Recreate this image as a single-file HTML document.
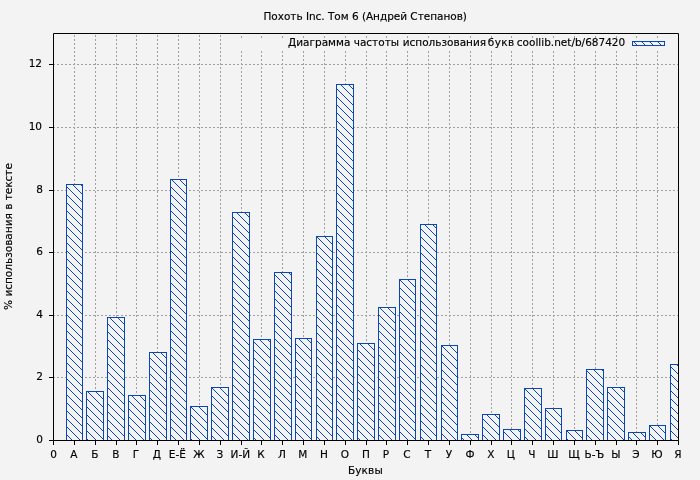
<!DOCTYPE html>
<html lang="ru"><head><meta charset="utf-8"><title>Похоть Inc. Том 6 (Андрей Степанов)</title>
<style>
html,body{margin:0;padding:0;background:#f3f3f3;}
body{width:700px;height:480px;overflow:hidden;}
svg{display:block;}
text{font-family:"DejaVu Sans","Liberation Sans",sans-serif;font-size:10.5px;fill:#000;stroke:#000;stroke-width:0.15px;}
</style></head><body>
<svg width="700" height="480" viewBox="0 0 700 480">
<defs>
<pattern id="h" width="8" height="8" patternUnits="userSpaceOnUse">
<path d="M-2,-2 L10,10 M-2,6 L2,10 M6,-2 L10,2" stroke="#0b47b3" stroke-width="1" fill="none"/>
</pattern>
<clipPath id="c"><rect x="53.5" y="33.5" width="625.0" height="407.0"/></clipPath>
</defs>
<rect width="700" height="480" fill="#f3f3f3"/>
<path d="M74.50,441.0 V33.0 M95.50,441.0 V33.0 M116.50,441.0 V33.0 M136.50,441.0 V33.0 M157.50,441.0 V33.0 M178.50,441.0 V33.0 M199.50,441.0 V33.0 M220.50,441.0 V33.0 M241.50,441 V50 M241.50,38 V33 M261.50,441 V50 M261.50,38 V33 M282.50,441 V50 M282.50,38 V33 M303.50,441 V50 M303.50,38 V33 M324.50,441 V50 M324.50,38 V33 M345.50,441 V50 M345.50,38 V33 M366.50,441 V50 M366.50,38 V33 M386.50,441 V50 M386.50,38 V33 M407.50,441 V50 M407.50,38 V33 M428.50,441 V50 M428.50,38 V33 M449.50,441 V50 M449.50,38 V33 M470.50,441 V50 M470.50,38 V33 M491.50,441 V50 M491.50,38 V33 M511.50,441 V50 M511.50,38 V33 M532.50,441 V50 M532.50,38 V33 M553.50,441 V50 M553.50,38 V33 M574.50,441 V50 M574.50,38 V33 M595.50,441 V50 M595.50,38 V33 M616.50,441 V50 M616.50,38 V33 M636.50,441 V50 M636.50,38 V33 M657.50,441 V50 M657.50,38 V33 M53.0,377.50 H679.0 M53.0,315.50 H679.0 M53.0,252.50 H679.0 M53.0,190.50 H679.0 M53.0,127.50 H679.0 M53.0,64.50 H679.0" stroke="#a0a0a0" stroke-width="1" stroke-dasharray="2,2" shape-rendering="crispEdges" fill="none"/>
<g clip-path="url(#c)">
<rect x="66.5" y="184.5" width="16.0" height="256.0" fill="#f3f3f3"/><rect x="66.5" y="184.5" width="16.0" height="256.0" fill="url(#h)" stroke="#0b47b3" stroke-width="1"/>
<rect x="86.5" y="391.5" width="17.0" height="49.0" fill="#f3f3f3"/><rect x="86.5" y="391.5" width="17.0" height="49.0" fill="url(#h)" stroke="#0b47b3" stroke-width="1"/>
<rect x="107.5" y="317.5" width="17.0" height="123.0" fill="#f3f3f3"/><rect x="107.5" y="317.5" width="17.0" height="123.0" fill="url(#h)" stroke="#0b47b3" stroke-width="1"/>
<rect x="128.5" y="395.5" width="17.0" height="45.0" fill="#f3f3f3"/><rect x="128.5" y="395.5" width="17.0" height="45.0" fill="url(#h)" stroke="#0b47b3" stroke-width="1"/>
<rect x="149.5" y="352.5" width="17.0" height="88.0" fill="#f3f3f3"/><rect x="149.5" y="352.5" width="17.0" height="88.0" fill="url(#h)" stroke="#0b47b3" stroke-width="1"/>
<rect x="170.5" y="179.5" width="16.0" height="261.0" fill="#f3f3f3"/><rect x="170.5" y="179.5" width="16.0" height="261.0" fill="url(#h)" stroke="#0b47b3" stroke-width="1"/>
<rect x="190.5" y="406.5" width="17.0" height="34.0" fill="#f3f3f3"/><rect x="190.5" y="406.5" width="17.0" height="34.0" fill="url(#h)" stroke="#0b47b3" stroke-width="1"/>
<rect x="211.5" y="387.5" width="17.0" height="53.0" fill="#f3f3f3"/><rect x="211.5" y="387.5" width="17.0" height="53.0" fill="url(#h)" stroke="#0b47b3" stroke-width="1"/>
<rect x="232.5" y="212.5" width="17.0" height="228.0" fill="#f3f3f3"/><rect x="232.5" y="212.5" width="17.0" height="228.0" fill="url(#h)" stroke="#0b47b3" stroke-width="1"/>
<rect x="253.5" y="339.5" width="17.0" height="101.0" fill="#f3f3f3"/><rect x="253.5" y="339.5" width="17.0" height="101.0" fill="url(#h)" stroke="#0b47b3" stroke-width="1"/>
<rect x="274.5" y="272.5" width="17.0" height="168.0" fill="#f3f3f3"/><rect x="274.5" y="272.5" width="17.0" height="168.0" fill="url(#h)" stroke="#0b47b3" stroke-width="1"/>
<rect x="295.5" y="338.5" width="16.0" height="102.0" fill="#f3f3f3"/><rect x="295.5" y="338.5" width="16.0" height="102.0" fill="url(#h)" stroke="#0b47b3" stroke-width="1"/>
<rect x="316.5" y="236.5" width="16.0" height="204.0" fill="#f3f3f3"/><rect x="316.5" y="236.5" width="16.0" height="204.0" fill="url(#h)" stroke="#0b47b3" stroke-width="1"/>
<rect x="336.5" y="84.5" width="17.0" height="356.0" fill="#f3f3f3"/><rect x="336.5" y="84.5" width="17.0" height="356.0" fill="url(#h)" stroke="#0b47b3" stroke-width="1"/>
<rect x="357.5" y="343.5" width="17.0" height="97.0" fill="#f3f3f3"/><rect x="357.5" y="343.5" width="17.0" height="97.0" fill="url(#h)" stroke="#0b47b3" stroke-width="1"/>
<rect x="378.5" y="307.5" width="17.0" height="133.0" fill="#f3f3f3"/><rect x="378.5" y="307.5" width="17.0" height="133.0" fill="url(#h)" stroke="#0b47b3" stroke-width="1"/>
<rect x="399.5" y="279.5" width="16.0" height="161.0" fill="#f3f3f3"/><rect x="399.5" y="279.5" width="16.0" height="161.0" fill="url(#h)" stroke="#0b47b3" stroke-width="1"/>
<rect x="420.5" y="224.5" width="16.0" height="216.0" fill="#f3f3f3"/><rect x="420.5" y="224.5" width="16.0" height="216.0" fill="url(#h)" stroke="#0b47b3" stroke-width="1"/>
<rect x="441.5" y="345.5" width="16.0" height="95.0" fill="#f3f3f3"/><rect x="441.5" y="345.5" width="16.0" height="95.0" fill="url(#h)" stroke="#0b47b3" stroke-width="1"/>
<rect x="461.5" y="434.5" width="17.0" height="6.0" fill="#f3f3f3"/><rect x="461.5" y="434.5" width="17.0" height="6.0" fill="url(#h)" stroke="#0b47b3" stroke-width="1"/>
<rect x="482.5" y="414.5" width="17.0" height="26.0" fill="#f3f3f3"/><rect x="482.5" y="414.5" width="17.0" height="26.0" fill="url(#h)" stroke="#0b47b3" stroke-width="1"/>
<rect x="503.5" y="429.5" width="17.0" height="11.0" fill="#f3f3f3"/><rect x="503.5" y="429.5" width="17.0" height="11.0" fill="url(#h)" stroke="#0b47b3" stroke-width="1"/>
<rect x="524.5" y="388.5" width="17.0" height="52.0" fill="#f3f3f3"/><rect x="524.5" y="388.5" width="17.0" height="52.0" fill="url(#h)" stroke="#0b47b3" stroke-width="1"/>
<rect x="545.5" y="408.5" width="16.0" height="32.0" fill="#f3f3f3"/><rect x="545.5" y="408.5" width="16.0" height="32.0" fill="url(#h)" stroke="#0b47b3" stroke-width="1"/>
<rect x="566.5" y="430.5" width="16.0" height="10.0" fill="#f3f3f3"/><rect x="566.5" y="430.5" width="16.0" height="10.0" fill="url(#h)" stroke="#0b47b3" stroke-width="1"/>
<rect x="586.5" y="369.5" width="17.0" height="71.0" fill="#f3f3f3"/><rect x="586.5" y="369.5" width="17.0" height="71.0" fill="url(#h)" stroke="#0b47b3" stroke-width="1"/>
<rect x="607.5" y="387.5" width="17.0" height="53.0" fill="#f3f3f3"/><rect x="607.5" y="387.5" width="17.0" height="53.0" fill="url(#h)" stroke="#0b47b3" stroke-width="1"/>
<rect x="628.5" y="432.5" width="17.0" height="8.0" fill="#f3f3f3"/><rect x="628.5" y="432.5" width="17.0" height="8.0" fill="url(#h)" stroke="#0b47b3" stroke-width="1"/>
<rect x="649.5" y="425.5" width="16.0" height="15.0" fill="#f3f3f3"/><rect x="649.5" y="425.5" width="16.0" height="15.0" fill="url(#h)" stroke="#0b47b3" stroke-width="1"/>
<rect x="670.5" y="364.5" width="16.0" height="76.0" fill="#f3f3f3"/><rect x="670.5" y="364.5" width="16.0" height="76.0" fill="url(#h)" stroke="#0b47b3" stroke-width="1"/>
</g>
<rect x="632.5" y="41.5" width="32" height="4" fill="url(#h)" stroke="#0b47b3" stroke-width="1"/>
<path d="M53.5,33.5 H678.5 V440.5 H53.5 Z M53.50,440.5 v4.5 M74.50,440.5 v4.5 M95.50,440.5 v4.5 M116.50,440.5 v4.5 M136.50,440.5 v4.5 M157.50,440.5 v4.5 M178.50,440.5 v4.5 M199.50,440.5 v4.5 M220.50,440.5 v4.5 M241.50,440.5 v4.5 M261.50,440.5 v4.5 M282.50,440.5 v4.5 M303.50,440.5 v4.5 M324.50,440.5 v4.5 M345.50,440.5 v4.5 M366.50,440.5 v4.5 M386.50,440.5 v4.5 M407.50,440.5 v4.5 M428.50,440.5 v4.5 M449.50,440.5 v4.5 M470.50,440.5 v4.5 M491.50,440.5 v4.5 M511.50,440.5 v4.5 M532.50,440.5 v4.5 M553.50,440.5 v4.5 M574.50,440.5 v4.5 M595.50,440.5 v4.5 M616.50,440.5 v4.5 M636.50,440.5 v4.5 M657.50,440.5 v4.5 M678.50,440.5 v4.5 M53.5,440.50 h-4.5 M53.5,377.50 h-4.5 M53.5,315.50 h-4.5 M53.5,252.50 h-4.5 M53.5,190.50 h-4.5 M53.5,127.50 h-4.5 M53.5,64.50 h-4.5" stroke="#000" stroke-width="1" fill="none"/>
<text x="263.5" y="20" textLength="203.4">Похоть Inc. Том 6 (Андрей Степанов)</text>
<text y="46"><tspan x="288">Диаграмма </tspan><tspan x="353.7">частоты </tspan><tspan x="402.7">использования </tspan><tspan x="487.8" textLength="26.5">букв</tspan> <tspan x="516.8">coollib.net/b/687420</tspan></text>
<text x="53.50" y="457.8" text-anchor="middle">0</text>
<text x="73.90" y="457.8" text-anchor="middle">А</text>
<text x="94.90" y="457.8" text-anchor="middle">Б</text>
<text x="115.90" y="457.8" text-anchor="middle">В</text>
<text x="135.90" y="457.8" text-anchor="middle">Г</text>
<text x="156.90" y="457.8" text-anchor="middle">Д</text>
<text x="177.30" y="457.8" text-anchor="middle">Е-Ё</text>
<text x="198.90" y="457.8" text-anchor="middle">Ж</text>
<text x="219.90" y="457.8" text-anchor="middle">З</text>
<text x="240.30" y="457.8" text-anchor="middle">И-Й</text>
<text x="260.90" y="457.8" text-anchor="middle">К</text>
<text x="281.90" y="457.8" text-anchor="middle">Л</text>
<text x="302.90" y="457.8" text-anchor="middle">М</text>
<text x="323.90" y="457.8" text-anchor="middle">Н</text>
<text x="344.90" y="457.8" text-anchor="middle">О</text>
<text x="365.90" y="457.8" text-anchor="middle">П</text>
<text x="385.90" y="457.8" text-anchor="middle">Р</text>
<text x="406.90" y="457.8" text-anchor="middle">С</text>
<text x="427.90" y="457.8" text-anchor="middle">Т</text>
<text x="448.90" y="457.8" text-anchor="middle">У</text>
<text x="469.90" y="457.8" text-anchor="middle">Ф</text>
<text x="490.90" y="457.8" text-anchor="middle">Х</text>
<text x="510.90" y="457.8" text-anchor="middle">Ц</text>
<text x="531.90" y="457.8" text-anchor="middle">Ч</text>
<text x="552.90" y="457.8" text-anchor="middle">Ш</text>
<text x="573.90" y="457.8" text-anchor="middle">Щ</text>
<text x="594.30" y="457.8" text-anchor="middle">Ь-Ъ</text>
<text x="615.90" y="457.8" text-anchor="middle">Ы</text>
<text x="635.90" y="457.8" text-anchor="middle">Э</text>
<text x="656.90" y="457.8" text-anchor="middle">Ю</text>
<text x="677.90" y="457.8" text-anchor="middle">Я</text>
<text x="43" y="443.00" text-anchor="end">0</text>
<text x="43" y="380.00" text-anchor="end">2</text>
<text x="43" y="318.00" text-anchor="end">4</text>
<text x="43" y="255.00" text-anchor="end">6</text>
<text x="43" y="193.00" text-anchor="end">8</text>
<text x="42" y="130.00" text-anchor="end">10</text>
<text x="42" y="67.00" text-anchor="end">12</text>
<text x="365.4" y="474" text-anchor="middle" letter-spacing="0.15">Буквы</text>
<text transform="translate(12,236.5) rotate(-90)" text-anchor="middle">% использования в тексте</text>
</svg>
</body></html>
